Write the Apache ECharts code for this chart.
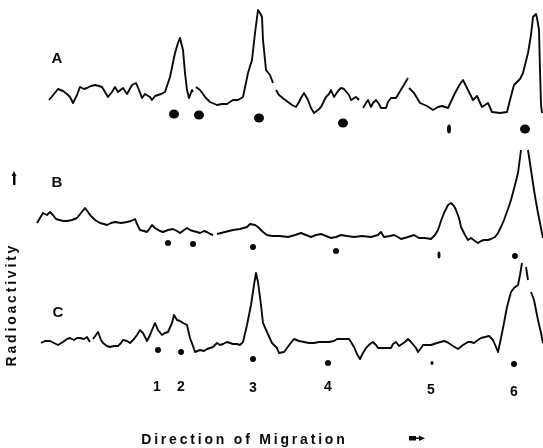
<!DOCTYPE html>
<html>
<head>
<meta charset="utf-8">
<script src="https://cdn.jsdelivr.net/npm/echarts@6/dist/echarts.min.js"></script>
<style>html,body{margin:0;padding:0;background:#fff;}#c{width:543px;height:448px;}</style>
</head>
<body>
<div id="c"></div>
<script>
// Migration distance (x) and radioactivity (y, arbitrary units)
const traceA = [[49,30],[54,36],[58,41],[63,39],[67,36],[70,33],[73,27],[77,35],[80,43],[84,41],[87,42],[91,44],[95,45],[99,44],[102,43],[105,38],[108,33],[112,38],[115,43],[118,38],[123,42],[127,36],[132,45],[136,47],[139,40],[142,32],[145,36],[147,37],[150,33],[152,30],[155,34],[157,35],[161,36],[165,38],[170,53],[175,77],[178,87],[180,92],[181,88],[183,80],[185,57],[187,40],[189,32],[192,40],[193,38],null,[196,43],[200,40],[203,36],[205,33],[210,28],[217,25],[222,26],[227,26],[233,30],[238,30],[243,33],[248,57],[252,70],[255,97],[258,120],[260,117],[262,113],[263,90],[266,60],[270,55],[273,47],null,[276,40],[279,35],[284,31],[288,28],[292,25],[296,23],[299,28],[301,32],[304,37],[308,30],[311,22],[314,17],[318,20],[321,23],[326,33],[329,36],[331,40],[334,33],[338,39],[341,42],[344,41],[346,40],[349,35],[351,30],[356,33],[359,30],null,[363,22],[366,27],[368,30],[371,23],[373,27],[376,30],[379,26],[381,22],[386,22],[388,28],[391,32],[396,32],[402,42],[408,52],null,[409,42],[414,37],[420,27],[427,24],[433,20],[438,23],[442,24],[448,22],[455,37],[460,46],[463,50],[468,40],[473,30],[477,34],[482,23],[488,27],[492,18],[500,17],[507,18],[510,30],[514,45],[520,51],[523,57],[528,77],[531,95],[533,113],[535,114],[536,116],[537,112],[539,100],[540,60],[541,25],[542,17]];
const traceB = [[37,47],[40,52],[43,57],[47,55],[50,58],[53,55],[56,51],[58,50],[63,49],[67,49],[72,50],[77,52],[81,57],[85,62],[88,58],[90,55],[95,50],[100,47],[104,46],[107,45],[111,47],[115,48],[121,47],[127,48],[131,49],[135,51],[137,46],[140,40],[144,39],[147,38],[150,42],[152,45],[155,42],[157,40],[160,39],[163,38],[168,40],[173,41],[177,39],[180,37],[184,40],[187,42],[190,40],[193,39],[197,38],[200,37],[204,39],[207,38],[210,36],[213,35],null,[217,36],[225,38],[233,40],[240,41],[247,43],[250,46],[252,48],[255,45],[258,43],[263,38],[267,35],[272,34],[280,34],[288,33],[295,35],[301,37],[306,35],[311,33],[316,35],[321,36],[326,34],[331,32],[336,33],[341,35],[347,34],[354,33],[362,34],[371,33],[378,35],[381,38],[384,33],[390,34],[394,35],[398,33],[401,31],[408,33],[414,35],[419,32],[425,32],[431,31],[435,35],[438,40],[441,49],[444,57],[448,65],[451,67],[454,64],[456,60],[459,52],[461,43],[465,35],[468,30],[471,32],[475,29],[478,27],[481,29],[484,30],[488,30],[491,31],[495,33],[498,37],[501,43],[504,50],[508,61],[511,70],[515,85],[518,97],[521,120],null,[528,120],[531,100],[534,80],[536,68],[538,57],[541,42],[543,32]];
const traceC = [[41,57],[45,59],[50,59],[54,57],[58,55],[63,58],[67,61],[70,62],[74,60],[77,62],[80,62],[84,61],[87,63],[90,58],null,[93,61],[95,63],[98,68],[101,60],[103,57],[107,54],[110,53],[114,54],[118,54],[121,57],[123,60],[127,59],[130,57],[134,61],[137,65],[140,70],[143,67],[147,59],[150,65],[152,70],[155,77],[158,70],[162,65],[165,67],[168,68],[172,77],[174,85],[177,80],[180,79],[183,77],[187,75],[190,62],[193,54],[195,48],[200,50],[204,49],[207,51],[210,52],[213,53],[217,57],[220,55],[223,56],[227,58],[230,57],[233,56],[237,56],[240,55],[243,58],[247,75],[251,95],[254,115],[256,127],[258,118],[261,95],[263,77],[267,68],[272,57],[277,52],[279,47],[281,45],[284,48],[286,50],[290,56],[294,61],[299,59],[304,58],[309,57],[314,57],[319,58],[324,58],[329,58],[334,59],[337,61],[339,62],[344,61],[349,61],[351,58],[354,53],[357,46],[360,41],[363,47],[366,52],[370,56],[373,58],[376,55],[378,52],[384,52],[391,52],[393,56],[396,58],[399,54],[401,53],[405,58],[408,61],[411,58],[413,57],[416,52],[418,48],[421,52],[423,55],[427,55],[431,55],[437,57],[444,59],[447,58],[449,57],[453,54],[458,51],[463,55],[468,58],[471,58],[474,57],[478,60],[481,62],[485,63],[489,64],[491,62],[493,60],[496,53],[498,48],[501,62],[504,77],[507,93],[511,108],[514,112],[518,115],[520,125],[522,137],null,[526,133],[528,120],null,[531,108],[534,100],[536,90],[538,80],[541,67],[543,57]];

// Marker spots (standards) under each trace
const spotsA = [[174,16],[199,15],[259,12],[343,7],[525,1]];
const narrowSpotsA = [[449,1]];
const spotsB = [[168,27],[193,26],[253,23],[336,19],[515,14]];
const narrowSpotsB = [[439,15]];
const spotsC = [[158,50],[181,48],[253,41],[328,37],[514,36]];
const narrowSpotsC = [[432,37]];

// Standard numbers
const standardLabels = ['1','2','3','4','5','6'];
const standardPos = [[157,13],[181,13],[253,12],[328,13],[431,10],[514,8]];

const traceNames = ['A','B','C'];

const chart = echarts.init(document.getElementById('c'), null, {renderer:'canvas'});
const ink = '#0a0a0a';
const sp = s => s.split('').join('\u2009');
const font = '"Liberation Sans", Arial, sans-serif';

const grids = [
  {left:0, width:543, top:0, height:130},
  {left:0, width:543, top:130, height:140},
  {left:0, width:543, top:250, height:150}
];
const yMax = [130,140,150];
const xAxes = grids.map((g,i)=>({type:'value', gridIndex:i, min:0, max:543, show:false}));
const yAxes = grids.map((g,i)=>({type:'value', gridIndex:i, min:0, max:yMax[i], show:false}));

function lineS(data, i){
  return {type:'line', xAxisIndex:i, yAxisIndex:i, data:data, symbol:'none', connectNulls:false,
    lineStyle:{color:ink, width:1.9, join:'round'}, silent:true, animation:false, clip:false};
}
function dotS(data, i, size){
  return {type:'scatter', xAxisIndex:i, yAxisIndex:i, data:data, symbol:'circle', symbolSize:size,
    itemStyle:{color:ink, opacity:1}, silent:true, animation:false, clip:false};
}

const series = [
  lineS(traceA,0), lineS(traceB,1), lineS(traceC,2),
  dotS(spotsA,0,[10,9]), dotS(narrowSpotsA,0,[4,9]),
  dotS(spotsB,1,[6,6]), dotS(narrowSpotsB,1,[3,7]),
  dotS(spotsC,2,[6,6]), dotS(narrowSpotsC,2,[3,4]),
  {type:'scatter', xAxisIndex:2, yAxisIndex:2, symbolSize:0, silent:true, animation:false, clip:false,
   itemStyle:{opacity:1},
   data: standardPos.map((p,k)=>({value:p, name:standardLabels[k]})),
   label:{show:true, position:'inside', formatter:p=>p.name, color:ink, opacity:1, fontFamily:font, fontWeight:'bold', fontSize:14}}
];

const labelPos = [[57,59],[57,183],[58,313]];
const graphic = traceNames.map((t,k)=>({type:'text', x:labelPos[k][0], y:labelPos[k][1],
  style:{text:t, font:'bold 15px '+font, fill:ink, align:'center', verticalAlign:'middle'}}));
graphic.push({type:'text', x:12, y:306, rotation:Math.PI/2,
  style:{text:sp('Radioactivity'), font:'bold 14px '+font, fill:ink, align:'center', verticalAlign:'middle'}});
graphic.push({type:'text', x:243, y:440,
  style:{text:sp('Direction')+'\u2009 \u2009'+sp('of')+'\u2009 \u2009'+sp('Migration'), font:'bold 14px '+font, fill:ink, align:'center', verticalAlign:'middle'}});
// up arrow near axis label
graphic.push({type:'polygon', shape:{points:[[14,171],[11.5,176],[16.5,176]]}, style:{fill:ink}});
graphic.push({type:'rect', shape:{x:13,y:176,width:2.5,height:9}, style:{fill:ink}});
// right arrow after x label
graphic.push({type:'rect', shape:{x:409,y:436,width:7,height:4.5}, style:{fill:ink}});
graphic.push({type:'line', shape:{x1:416,y1:438.2,x2:421,y2:438.2}, style:{stroke:ink, lineWidth:1.5}});
graphic.push({type:'polygon', shape:{points:[[425,438.2],[419,435.5],[419,441]]}, style:{fill:ink}});

chart.setOption({
  backgroundColor:'#fff',
  animation:false,
  grid:grids, xAxis:xAxes, yAxis:yAxes, series:series, graphic:graphic
});
</script>
</body>
</html>
